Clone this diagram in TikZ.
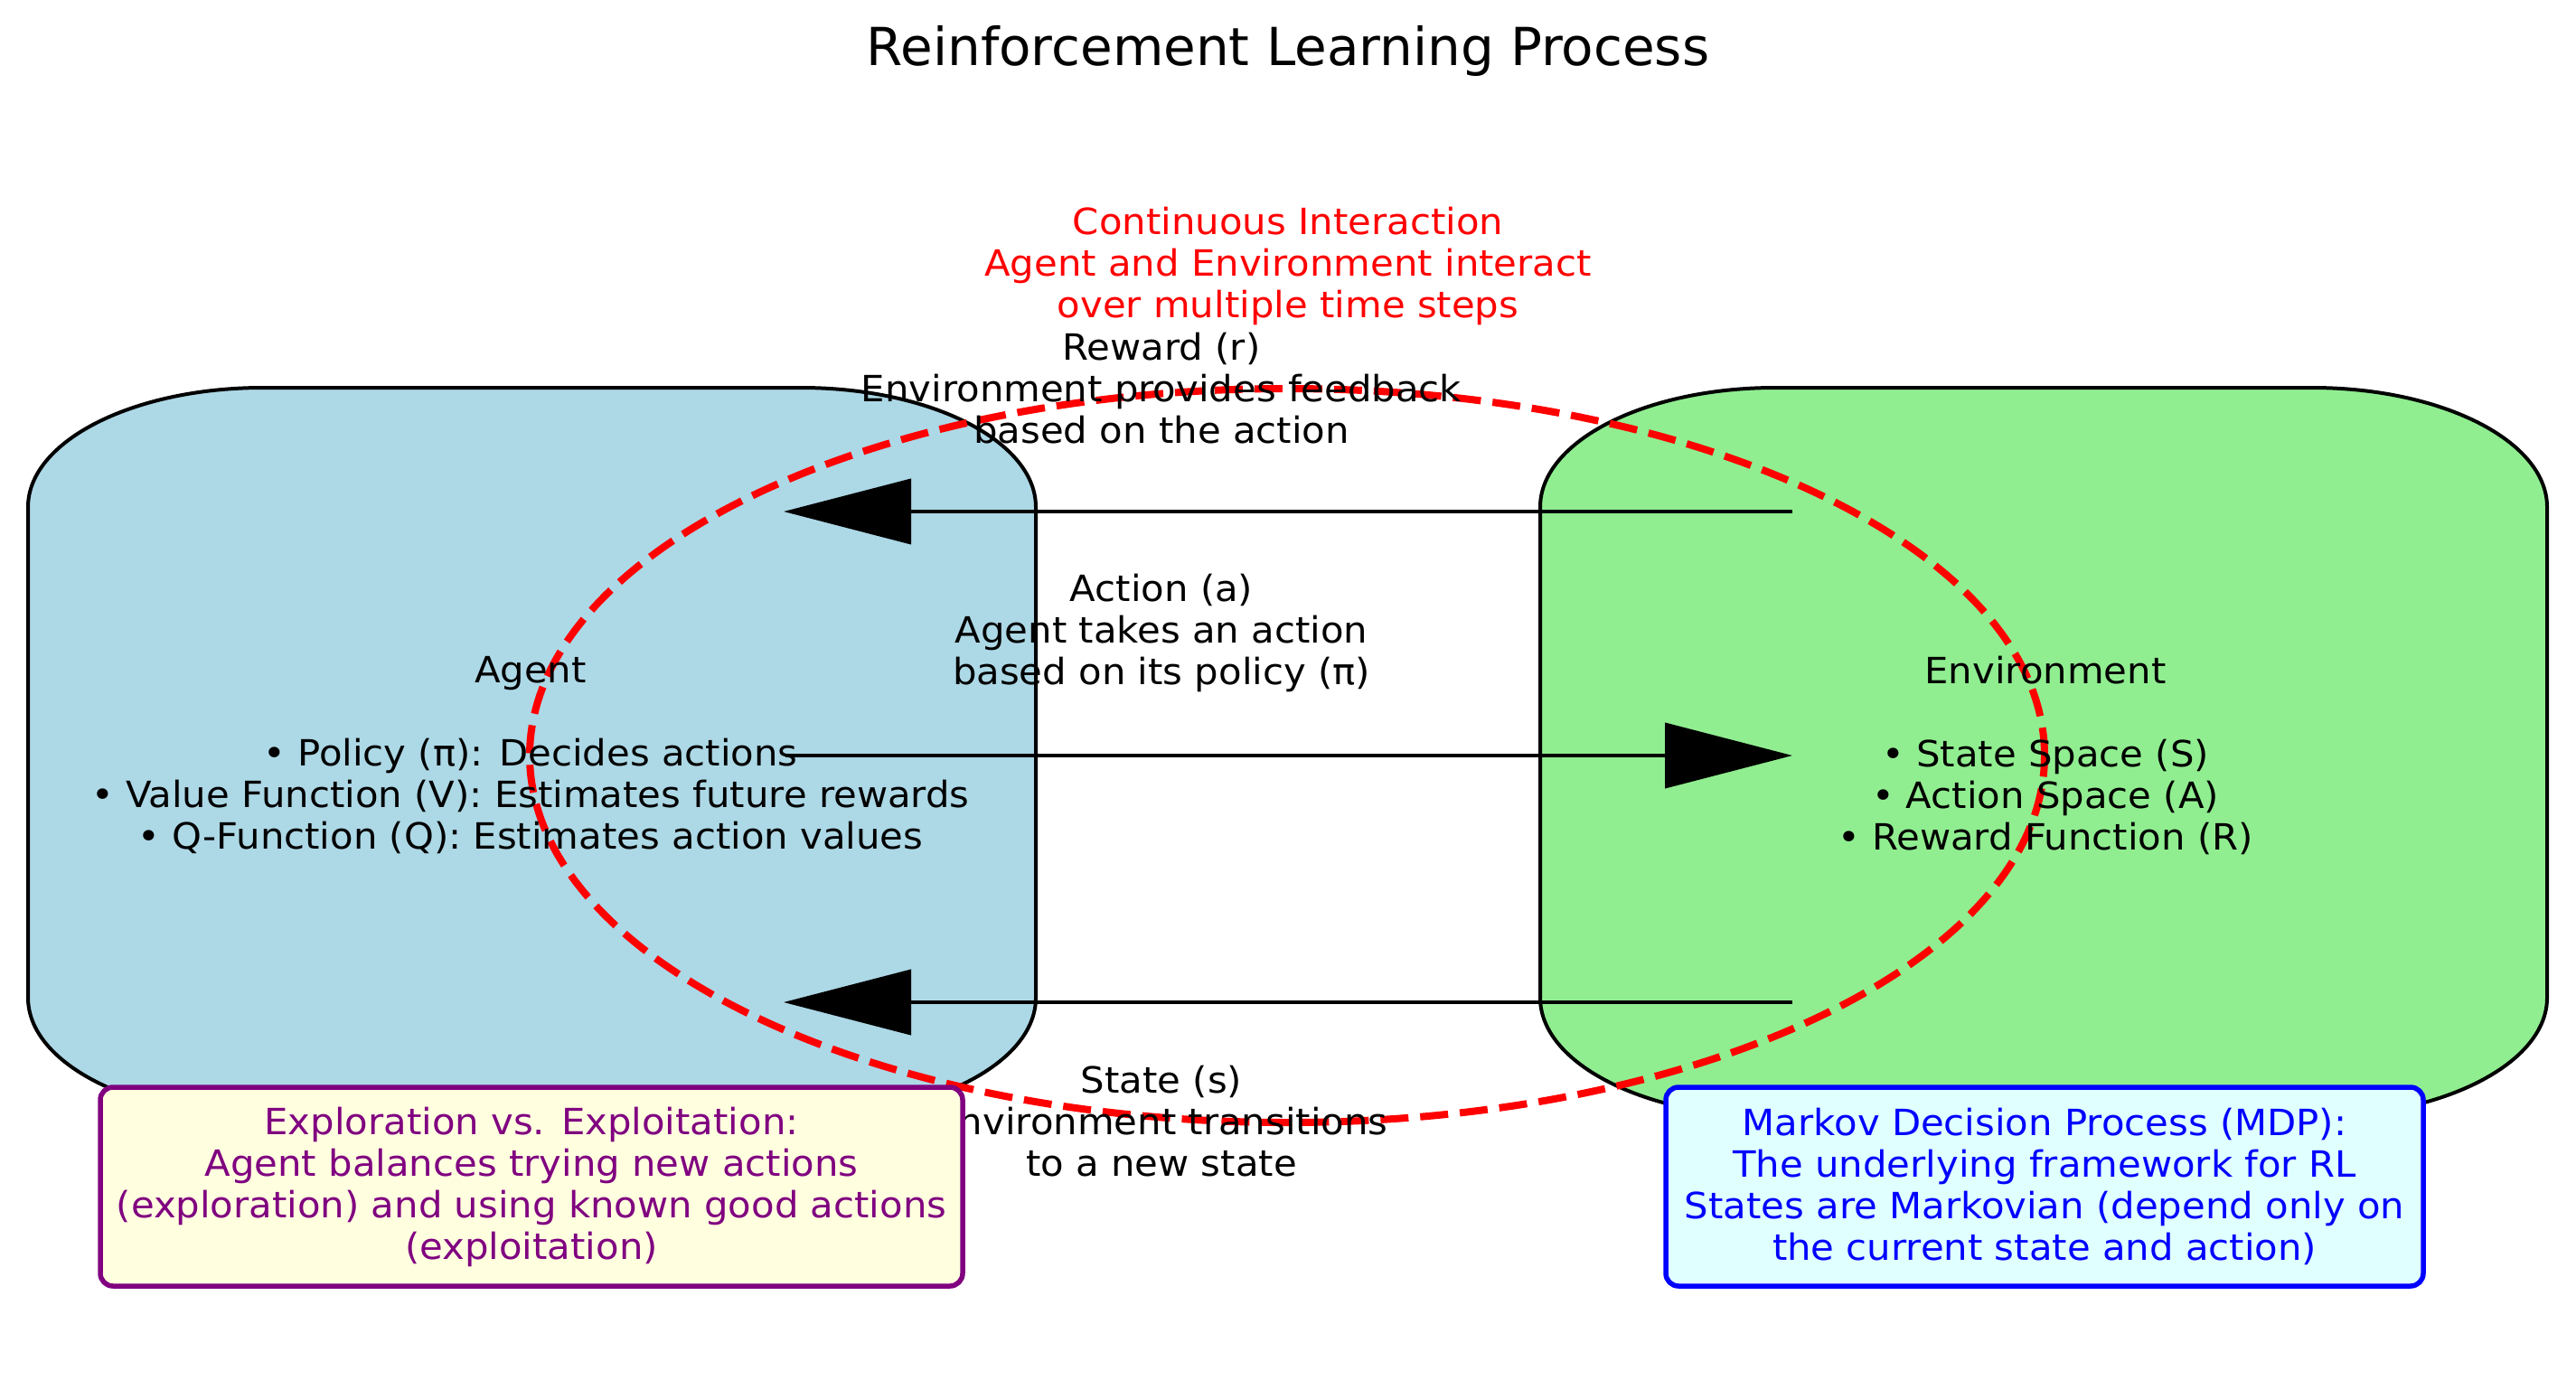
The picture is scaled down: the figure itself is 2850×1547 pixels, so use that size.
\documentclass[tikz,border=0pt]{standalone}
\usepackage{fontspec}
\setmainfont{DejaVu Sans}
\newfontfamily\widefont[FakeStretch=1.045]{DejaVu Sans}
\usetikzlibrary{arrows.meta}
\definecolor{lblue}{HTML}{ADD8E6}
\definecolor{lgreen}{HTML}{90EE90}
\definecolor{lyellow}{HTML}{FFFFE0}
\definecolor{lcyan}{HTML}{E0FFFF}
\definecolor{mpurple}{HTML}{800080}
\definecolor{mblue}{HTML}{0000FF}
\definecolor{mred}{HTML}{FF0000}
% box with elliptical corners: x0 y0 x1 y1 rx ry style
\newcommand\ellbox[7]{%
 \path[#7] ({#1+#5},#2) -- ({#3-#5},#2)
   arc[start angle=90,end angle=0,x radius=#5pt,y radius=#6pt] -- (#3,{#4-#6})
   arc[start angle=0,end angle=-90,x radius=#5pt,y radius=#6pt] -- ({#1+#5},#4)
   arc[start angle=-90,end angle=-180,x radius=#5pt,y radius=#6pt] -- (#1,{#2+#6})
   arc[start angle=180,end angle=90,x radius=#5pt,y radius=#6pt] -- cycle;}
\begin{document}
\begin{tikzpicture}[x=1pt,y=-1pt,
  txt/.style={font=\widefont\fontsize{40}{46}\selectfont, align=center, inner sep=0pt},
  boxline/.style={draw=black, line width=4pt},
  arr/.style={line width=4pt, -{Triangle[length=141pt,width=72pt]}},
  loopline/.style={draw=mred, line width=8pt, dash pattern=on 31pt off 13pt},
  note/.style={txt, line width=5.5pt, rounded corners=14pt, minimum height=220pt}]
\useasboundingbox (0,0) rectangle (2850,1547);
\fill[white] (0,0) rectangle (2850,1547);
% main boxes
\ellbox{31}{429}{1146}{1236}{260}{132}{boxline, fill=lblue}
\ellbox{1704}{429}{2818}{1236}{260}{132}{boxline, fill=lgreen}
% arrows
\coordinate (rS) at (1983,566); \coordinate (rT) at (867,566);
\coordinate (aS) at (869,836);  \coordinate (aT) at (1983,836);
\coordinate (sS) at (1983,1109); \coordinate (sT) at (867,1109);
\draw[arr] (rS) -- (rT);
\draw[arr] (aS) -- (aT);
\draw[arr] (sS) -- (sT);
% interaction loop
\draw[loopline] (1424,836) ellipse [x radius=838pt, y radius=406pt];
% texts
\node[txt, font=\rmfamily\fontsize{58}{70}\selectfont] (title) at (1425,56) {Reinforcement Learning Process};
\node[txt, text=mred] (loopLbl) at (1425,294) {Continuous Interaction\\Agent and Environment interact\\over multiple time steps};
\node[txt] (rLbl) at (1285,430) {Reward (r)\\Environment provides feedback\\based on the action};
\node[txt] (aLbl) at (1285,700) {Action (a)\\Agent takes an action\\based on its policy (π)};
\node[txt] (sLbl) at (1285,1241) {State (s)\\Environment transitions\\to a new state};
\node[txt] (agent) at (587,836) {Agent\\[46pt]• Policy (π): Decides actions\\• Value Function (V): Estimates future rewards\\• Q-Function (Q): Estimates action values};
\node[txt] (env) at (2263,836) {Environment\\[46pt]• State Space (S)\\• Action Space (A)\\• Reward Function (R)};
% notes
\node[note, draw=mpurple, fill=lyellow, text=mpurple, minimum width=954pt] (explo) at (588,1313)
  {Exploration vs. Exploitation:\\Agent balances trying new actions\\(exploration) and using known good actions\\(exploitation)};
\node[note, draw=mblue, fill=lcyan, text=mblue, minimum width=838pt] (mdp) at (2262,1313)
  {Markov Decision Process (MDP):\\The underlying framework for RL\\States are Markovian (depend only on\\the current state and action)};
\end{tikzpicture}
\end{document}
